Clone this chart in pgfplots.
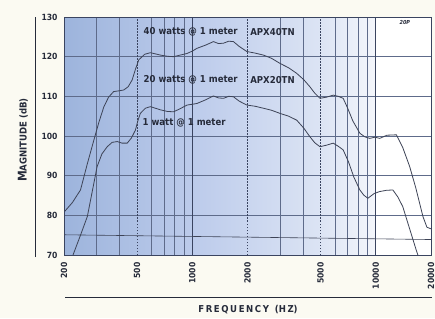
\documentclass[border=0pt]{standalone}
\usepackage{pgfplots}
\pgfplotsset{compat=1.18}
\usepackage{fontspec}
\setmainfont{DejaVu Sans Condensed}
\definecolor{bgcream}{HTML}{FBFAF2}
\definecolor{blueA}{HTML}{9DB4DC}
\definecolor{blueB}{HTML}{BCCBEB}
\definecolor{blueC}{HTML}{DCE4F4}
\definecolor{blueD}{HTML}{F4F6FB}
\definecolor{gridc}{HTML}{5E6B8A}
\definecolor{gridd}{HTML}{3A4460}
\definecolor{curvec}{HTML}{3D4356}
\definecolor{txtc}{HTML}{262B3A}
\begin{document}
\begin{tikzpicture}[x=1pt,y=1pt]
\fill[bgcream] (0,0) rectangle (435,318);
\begin{axis}[
  at={(64pt,63pt)}, anchor=south west,
  scale only axis, width=367pt, height=238pt,
  xmode=log, xmin=200, xmax=20000, ymin=70, ymax=130,
  ytick={70,80,90,100,110,120,130},
  yticklabels={70,80,90,100,110,120,130},
  xtick={200,500,1000,2000,5000,10000,20000},
  xticklabels={200,500,1000,2000,5000,10000,20000},
  /pgf/number format/assume math mode=true,
  minor xtick={}, major tick length=0pt, minor tick length=0pt,
  tick label style={font=\bfseries\fontsize{8.5}{8.5}\selectfont, text=txtc},
  xticklabel style={rotate=90, anchor=east},
  xticklabel shift=4pt, yticklabel shift=3pt,
  axis line style={color=gridd, line width=0.7pt},
  axis on top, clip=true,
]
\fill[left color=blueA, right color=blueB] (axis cs:200,70) rectangle (axis cs:1000,130);
\fill[left color=blueB, right color=blueC] (axis cs:1000,70) rectangle (axis cs:5000,130);
\fill[left color=blueC, right color=blueD] (axis cs:5000,70) rectangle (axis cs:10000,130);
\fill[white] (axis cs:10000,70) rectangle (axis cs:20000,130);
% horizontal grid
\pgfplotsinvokeforeach{80,90,100,110,120}{
  \draw[gridc, line width=0.55pt] (axis cs:200,#1) -- (axis cs:20000,#1);
}
% minor vertical grid
\pgfplotsinvokeforeach{300,400,600,700,800,900,3000,4000,6000,7000,8000,9000}{
  \draw[gridc, line width=0.5pt] (axis cs:#1,70) -- (axis cs:#1,130);
}
% dashed vertical
\pgfplotsinvokeforeach{500,2000,5000}{
  \draw[gridd, line width=0.75pt, dash pattern=on 1.5pt off 1.5pt] (axis cs:#1,70) -- (axis cs:#1,130);
}
% solid major
\pgfplotsinvokeforeach{1000,10000}{
  \draw[gridd, line width=0.85pt] (axis cs:#1,70) -- (axis cs:#1,130);
}
\addplot[curvec, line width=0.6pt] coordinates {(200,75.1) (20000,73.9)};
\addplot[curvec, line width=0.8pt] coordinates {
(200,80.8) (222,83.2) (246,86.4) (268,93) (291,99) (310,103.5) (330,107.4) (350,109.8) (373,111.2) (400,111.4) (423,111.6) (447,112.4) (470,114.1) (490,116.8) (511,119.2) (550,120.6) (591,121) (630,120.7) (670,120.4) (730,120.1) (791,120) (860,120.4) (936,120.8) (1000,121.4) (1060,122.1) (1180,122.9) (1305,123.8) (1390,123.3) (1480,123.4) (1580,123.9) (1676,123.8) (1800,122.6) (1983,121.3) (2200,120.9) (2441,120.4) (2700,119.6) (3007,118.3) (3350,117.2) (3706,115.8) (4050,114.2) (4377,112.4) (4650,110.8) (4963,109.5) (5400,109.8) (5861,110.3) (6250,110) (6641,109.5) (7000,107.2) (7500,103.8) (8188,100.7) (8700,99.8) (9274,99.4) (9900,99.7) (10510,99.4) (11500,100.2) (12960,100.3) (14000,97.2) (15300,92.3) (16500,87) (18070,79.7) (19000,77) (20000,76.6)};
\addplot[curvec, line width=0.8pt] coordinates {
(218,68.5) (226,70.5) (246,75) (268,79.7) (285,86) (303,92.3) (322,95.5) (344,97.3) (366,98.4) (390,98.6) (415,98.2) (442,98.2) (466,99.5) (490,101.5) (505,103.8) (521,105.7) (555,107) (591,107.4) (630,107) (670,106.6) (730,106.2) (791,106.1) (860,106.9) (936,107.8) (1000,108) (1060,108.2) (1180,109.1) (1305,110.1) (1390,109.6) (1480,109.5) (1580,110) (1676,109.9) (1800,108.8) (1983,107.8) (2200,107.5) (2441,107) (2700,106.5) (3007,105.7) (3350,105) (3706,104) (4050,102) (4377,99.8) (4650,98.3) (4963,97.3) (5400,97.7) (5861,98.2) (6250,97.4) (6641,96.5) (7100,93.5) (7600,89.6) (8188,86.4) (8600,85.1) (9050,84.3) (9800,85.5) (10510,86) (11400,86.3) (12390,86.4) (13200,84.6) (14030,82.2) (15200,77) (16600,71.3) (17300,68.8)};
\node[anchor=west, inner sep=0pt, text=txtc, font=\bfseries\fontsize{9.5}{9.5}\selectfont] at (axis cs:542,126.2) {40 watts @ 1 meter};
\node[anchor=west, inner sep=0pt, text=txtc, font=\bfseries\fontsize{9.5}{9.5}\selectfont] at (axis cs:2067,126.2) {APX40TN};
\node[anchor=west, inner sep=0pt, text=txtc, font=\bfseries\fontsize{9.5}{9.5}\selectfont] at (axis cs:542,114.1) {20 watts @ 1 meter};
\node[anchor=west, inner sep=0pt, text=txtc, font=\bfseries\fontsize{9.5}{9.5}\selectfont] at (axis cs:2067,114.1) {APX20TN};
\node[anchor=west, inner sep=0pt, text=txtc, font=\bfseries\fontsize{9.5}{9.5}\selectfont] at (axis cs:535,103.3) {1 watt @ 1 meter};
\node[anchor=center, inner sep=0pt, text=txtc, font=\bfseries\itshape\fontsize{5.5}{5.5}\selectfont] at (axis cs:14400,128.6) {20P};
\end{axis}
\draw[txtc, line width=1pt] (35,61) -- (35,301);
\node[rotate=90, text=txtc, inner sep=0pt] at (23,178) {\bfseries\fontsize{12}{12}\selectfont M\fontsize{9.5}{9.5}\selectfont AGNITUDE (dB)};
\draw[txtc, line width=1pt] (65,21) -- (432,21);
\node[text=txtc, inner sep=0pt] at (248,8) {\bfseries\fontsize{9.5}{9.5}\selectfont F\,R\,E\,Q\,U\,E\,N\,C\,Y\ \ (H\,Z)};
\pgfresetboundingbox
\useasboundingbox (0,0) rectangle (435,318);
\end{tikzpicture}
\end{document}
